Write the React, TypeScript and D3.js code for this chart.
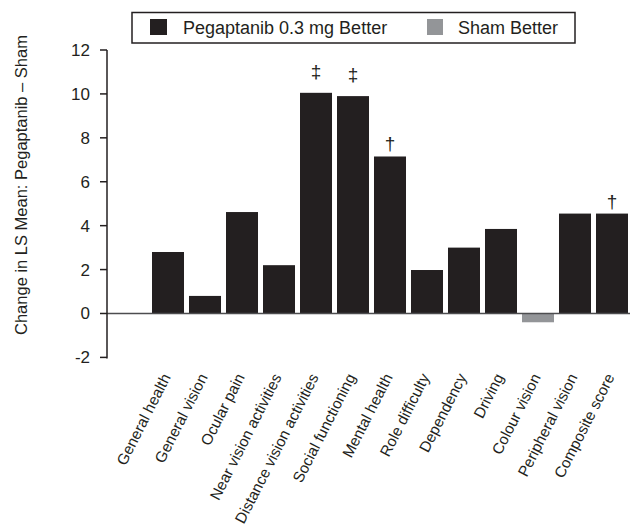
import React from "react";
import * as d3 from "d3";

const categories = [
  "General health",
  "General vision",
  "Ocular pain",
  "Near vision activities",
  "Distance vision activities",
  "Social functioning",
  "Mental health",
  "Role difficulty",
  "Dependency",
  "Driving",
  "Colour vision",
  "Peripheral vision",
  "Composite score",
];
const values = [2.8, 0.8, 4.62, 2.2, 10.05, 9.9, 7.15, 1.98, 3.0, 3.85, -0.4, 4.55, 4.55];
const marks = ["", "", "", "", "‡", "‡", "†", "", "", "", "", "", "†"];
const yTicks = [-2, 0, 2, 4, 6, 8, 10, 12];
const legendItems = ["Pegaptanib 0.3 mg Better", "Sham Better"];

const W = 630;
const H = 531;
const FONT = "'Liberation Sans', Arial, Helvetica, sans-serif";
const DARK = "#231f20";
const GRAY = "#939598";

const App = () => {
  const x = d3.scaleBand<string>().domain(categories).range([152, 628]).paddingInner(0.135).paddingOuter(0);
  const y = d3.scaleLinear().domain([-2, 12]).range([357.4, 50]);
  const axisX = 107;

  const bars = categories.map((c, i) => {
    const v = values[i];
    return (
      <rect
        key={c}
        x={x(c)}
        y={y(Math.max(0, v))}
        width={x.bandwidth()}
        height={Math.abs(y(v) - y(0))}
        fill={v >= 0 ? DARK : GRAY}
      />
    );
  });

  // double daggers sit higher above their bars than single ones
  const sigMarks = categories.map((c, i) =>
    marks[i] ? (
      <text
        key={c}
        x={(x(c) as number) + x.bandwidth() / 2}
        y={y(values[i]) - (marks[i] === "‡" ? 15 : 6)}
        textAnchor="middle"
        fontSize={19}
        fill={DARK}
      >
        {marks[i]}
      </text>
    ) : null
  );

  const labels = categories.map((c) => {
    const cx = (x(c) as number) + x.bandwidth() / 2 + 3;
    const cy = 377;
    return (
      <text
        key={c}
        x={cx}
        y={cy}
        textAnchor="end"
        fontSize={15.3}
        fill="#231f20"
        transform={`rotate(-63, ${cx}, ${cy})`}
      >
        {c}
      </text>
    );
  });

  const ticks = yTicks.map((t) => (
    <g key={t}>
      <line x1={axisX - 7} x2={axisX} y1={y(t)} y2={y(t)} stroke={DARK} strokeWidth={1.5} />
      <text x={axisX - 17} y={y(t) + 6} textAnchor="end" fontSize={17} fill={DARK}>
        {t}
      </text>
    </g>
  ));

  return (
    <div style={{ position: "absolute", left: 0, top: 0 }}>
      <svg width={W} height={H} viewBox={`0 0 ${W} ${H}`} fontFamily={FONT} style={{ display: "block", background: "#fff" }}>
        {/* legend */}
        <rect x={132} y={12.5} width={443} height={30.5} fill="#fff" stroke={DARK} strokeWidth={1.5} />
        <rect x={150} y={19} width={17} height={16} fill={DARK} />
        <text x={183} y={33.5} fontSize={18} fill={DARK}>
          {legendItems[0]}
        </text>
        <rect x={427} y={19} width={16} height={16} fill={GRAY} />
        <text x={458} y={33.5} fontSize={18} fill={DARK}>
          {legendItems[1]}
        </text>

        {bars}
        <line x1={axisX} x2={W} y1={y(0)} y2={y(0)} stroke="#4d4d4f" strokeWidth={1.6} />
        <line x1={axisX} x2={axisX} y1={y(12)} y2={y(-2) + 1} stroke={DARK} strokeWidth={1.5} />
        {ticks}
        {sigMarks}
        {labels}

        <text
          transform={`translate(27, 185) rotate(-90)`}
          textAnchor="middle"
          fontSize={16.5}
          fill={DARK}
        >
          Change in LS Mean:  Pegaptanib – Sham
        </text>
      </svg>
    </div>
  );
};

export default App;
